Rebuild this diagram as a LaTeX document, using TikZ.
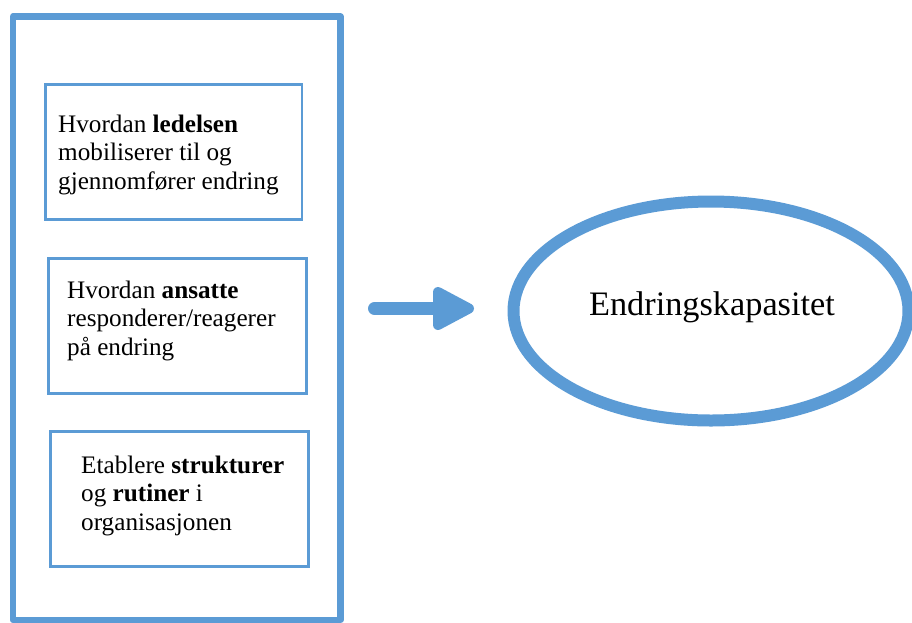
\documentclass[tikz,border=0pt]{standalone}
\usepackage{fontspec}
\setmainfont{Liberation Serif}
\usetikzlibrary{shapes.geometric}
\definecolor{bl}{RGB}{91,155,213}
\begin{document}
\begin{tikzpicture}[x=1pt,y=-1pt,
  outerbox/.style={draw=bl,line width=6.5pt,line join=round},
  innerbox/.style={draw=bl,line width=2.5pt,rectangle,inner sep=0pt,anchor=north west},
  boxtext/.style={anchor=north west,inner sep=0pt,align=left,font=\fontsize{25.2}{28.5}\selectfont},
  blarrow/.style={bl,line width=13pt,line cap=round}]
\useasboundingbox (0,0) rectangle (912,622);
\fill[white] (0,0) rectangle (912,622);
% outer panel
\coordinate (ol) at (13,16.5);
\coordinate (or) at (340.5,620);
\draw[outerbox] (ol) rectangle (or);
% inner boxes
\node[innerbox,minimum width=256.5pt,minimum height=135pt] (b1) at (44,83) {};
\node[boxtext] (t1) at (58,114.8) {Hvordan \textbf{ledelsen}\\mobiliserer til og\\gjennomfører endring};
\node[innerbox,minimum width=258pt,minimum height=135pt] (b2) at (47,257) {};
\node[boxtext] (t2) at (67,280.8) {Hvordan \textbf{ansatte}\\responderer/reagerer\\på endring};
\node[innerbox,minimum width=258pt,minimum height=135pt] (b3) at (49,430) {};
\node[boxtext] (t3) at (81,455.8) {Etablere \textbf{strukturer}\\og \textbf{rutiner} i\\organisasjonen};
% ellipse
\node[ellipse,draw=bl,line width=12pt,minimum width=395pt,minimum height=219pt,inner sep=0pt] (e) at (711,311) {};
\node[anchor=base,inner sep=0pt,font=\fontsize{34.3}{40}\selectfont] (et) at (712,315) {Endringskapasitet};
% arrow
\coordinate (as) at (374.5,308.5);
\coordinate (ae) at (445,308.5);
\coordinate (ht) at (469,308.5);
\coordinate (hu) at (438,292);
\coordinate (hd) at (438,325);
\draw[blarrow] (as) -- (ae);
\filldraw[bl,line width=10pt,line join=round] (ht) -- (hu) -- (hd) -- cycle;
\end{tikzpicture}
\end{document}
